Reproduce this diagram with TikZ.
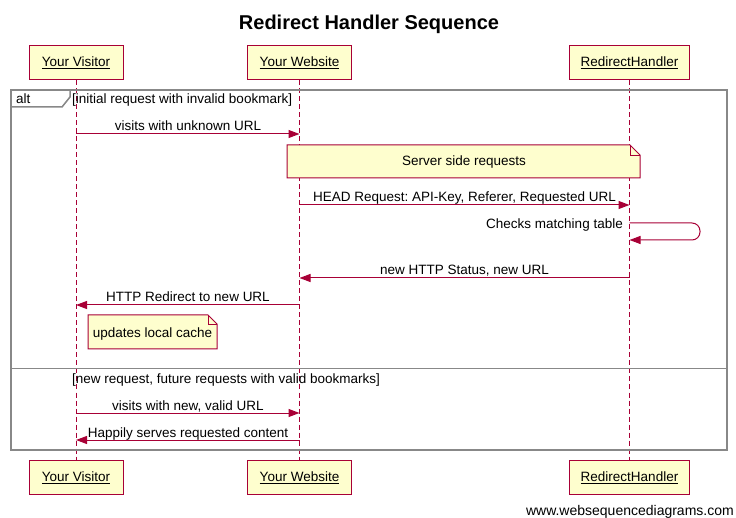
\documentclass[tikz,border=0pt]{standalone}
\usepackage{fontspec}
\setmainfont{Liberation Sans}
\usetikzlibrary{arrows.meta}
\definecolor{crim}{HTML}{A80036}
\definecolor{notefill}{HTML}{FEFECE}
\definecolor{framegray}{HTML}{888888}
\frenchspacing
\begin{document}
\begin{tikzpicture}[x=1pt,y=-1pt,
  actor/.style={draw=crim,fill=notefill,line width=1pt,minimum height=34pt,inner sep=0pt,font=\fontsize{13.5}{16}\selectfont},
  life/.style={draw=crim,line width=1pt,dash pattern=on 5pt off 3pt},
  msg/.style={draw=crim,line width=1pt,-{Triangle[length=11pt,width=8pt]}},
  lbl/.style={font=\fontsize{13.5}{16}\selectfont,inner sep=0pt,anchor=base},
  notebox/.style={draw=crim,fill=notefill,line width=1pt},
  framebox/.style={draw=framegray,line width=2pt},
  sepline/.style={draw=framegray,line width=1pt}]
\useasboundingbox (0,0) rectangle (736,518);
% title
\node[font=\fontsize{20}{24}\selectfont\bfseries,inner sep=0pt,anchor=base] (title) at (369,30) {Redirect Handler Sequence};
% participants
\node[actor,minimum width=94pt] (vt) at (76,63) {\underline{Your Visitor}};
\node[actor,minimum width=104pt] (wt) at (299.5,63) {\underline{Your Website}};
\node[actor,minimum width=120pt] (rt) at (629.5,63) {\underline{RedirectHandler}};
\node[actor,minimum width=94pt] (vb) at (76,477.5) {\underline{Your Visitor}};
\node[actor,minimum width=104pt] (wb) at (299.5,477.5) {\underline{Your Website}};
\node[actor,minimum width=120pt] (rb) at (629.5,477.5) {\underline{RedirectHandler}};
\draw[life] (vt.south) -- (vb.north);
\draw[life] (wt.south) -- (wb.north);
\draw[life] (rt.south) -- (rb.north);
% alt frame
\draw[framebox] (11,90) rectangle (727,450);
\draw[draw=framegray,line width=1.5pt] (11,107) -- (62,107) -- (70,97) -- (70,90);
\node[lbl,anchor=base west] (altlbl) at (16,104) {alt};
\node[lbl,anchor=base west] (g1) at (72,104) {[initial request with invalid bookmark]};
\draw[sepline] (11,369) -- (727,369);
\node[lbl,anchor=base west] (g2) at (72,384) {[new request, future requests with valid bookmarks]};
% message endpoints
\coordinate (v1) at (76,134); \coordinate (w1) at (299.5,134);
\coordinate (w2) at (299.5,205); \coordinate (r2) at (629.5,205);
\coordinate (r3a) at (629.5,223); \coordinate (r3b) at (629.5,240);
\coordinate (r4) at (629.5,278); \coordinate (w4) at (299.5,278);
\coordinate (w5) at (299.5,305); \coordinate (v5) at (76,305);
\coordinate (v6) at (76,413); \coordinate (w6) at (299.5,413);
\coordinate (w7) at (299.5,440); \coordinate (v7) at (76,440);
% messages
\draw[msg] (v1) -- (w1);
\node[lbl] (m1) at (188,131) {visits with unknown URL};
% note 1
\draw[notebox] (287,145) -- (630,145) -- (640,155) -- (640,178) -- (287,178) -- cycle;
\draw[crim,line width=0.8pt] (630,145) -- (630,155) -- (640,155);
\node[lbl,anchor=center] (n1) at (464,162) {Server side requests};
\draw[msg] (w2) -- (r2);
\node[lbl] (m2) at (464.5,202) {HEAD Request: API-Key, Referer, Requested URL};
\draw[msg,rounded corners=8pt] (r3a) -- (700,223) -- (700,240) -- (r3b);
\node[lbl,anchor=base east] (m3) at (623,229) {Checks matching table};
\draw[msg] (r4) -- (w4);
\node[lbl] (m4) at (464.5,275) {new HTTP Status, new URL};
\draw[msg] (w5) -- (v5);
\node[lbl] (m5) at (188,302) {HTTP Redirect to new URL};
% note 2
\draw[notebox] (88,315) -- (208,315) -- (217,324) -- (217,349) -- (88,349) -- cycle;
\draw[crim,line width=0.8pt] (208,315) -- (208,324) -- (217,324);
\node[lbl,anchor=center] (n2) at (152.5,334) {updates local cache};
\draw[msg] (v6) -- (w6);
\node[lbl] (m6) at (188,410) {visits with new, valid URL};
\draw[msg] (w7) -- (v7);
\node[lbl] (m7) at (188,437) {Happily serves requested content};
% footer
\node[font=\fontsize{14}{16}\selectfont,inner sep=0pt,anchor=base east] (foot) at (734,515) {www.websequencediagrams.com};
\end{tikzpicture}
\end{document}
